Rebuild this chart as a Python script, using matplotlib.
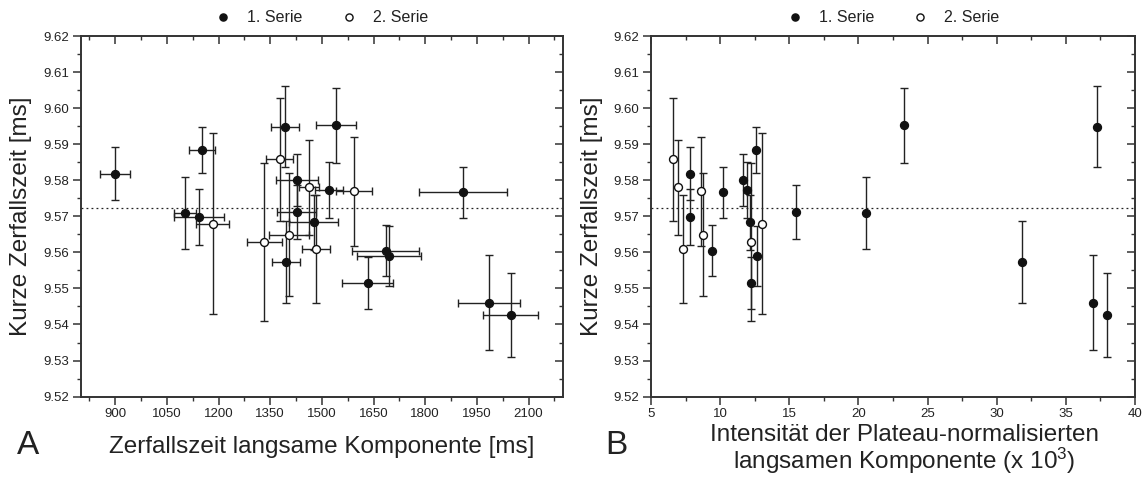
import matplotlib
matplotlib.use("Agg")
import matplotlib.pyplot as plt
from matplotlib.ticker import MultipleLocator, FormatStrFormatter

plt.rcParams['font.family'] = ['Liberation Sans', 'DejaVu Sans']
plt.rcParams['mathtext.fontset'] = 'custom'
plt.rcParams['mathtext.rm'] = 'Liberation Sans'
plt.rcParams['mathtext.it'] = 'Liberation Sans'

# 1. Serie (filled)
s1_tau_slow = [900, 1153, 1103, 1144, 1393, 1428, 1521, 1540, 1910, 1396, 1427, 1477, 1685, 1695, 1633, 1985, 2048]
s1_tau_slow_err = [43, 38, 32, 72, 41, 61, 40, 58, 127, 41, 57, 71, 97, 94, 74, 90, 79]
s1_intensity = [7.82, 12.57, 20.55, 7.82, 37.23, 11.68, 11.94, 23.29, 10.18, 31.8, 15.46, 12.16, 9.43, 12.64, 12.23, 36.94, 37.95]
s1_tau_fast = [9.5818, 9.5883, 9.5710, 9.5699, 9.5949, 9.5801, 9.5773, 9.5952, 9.5767, 9.5574,
               9.5712, 9.5683, 9.5605, 9.5590, 9.5514, 9.5460, 9.5427]
s1_tau_fast_err = [0.0074, 0.0064, 0.0100, 0.0078, 0.0113, 0.0072, 0.0079, 0.0103, 0.0071, 0.0114,
                   0.0075, 0.0077, 0.0070, 0.0083, 0.0072, 0.0132, 0.0117]

# 2. Serie (open)
s2_tau_slow = [1183, 1378, 1463, 1593, 1333, 1405, 1483]
s2_tau_slow_err = [48, 39, 30, 52, 50, 58, 41]
s2_intensity = [13.0, 6.57, 6.93, 8.62, 12.23, 8.78, 7.34]
s2_tau_fast = [9.5680, 9.5858, 9.5780, 9.5769, 9.5629, 9.5649, 9.5609]
s2_tau_fast_err = [0.025, 0.017, 0.0131, 0.015, 0.022, 0.017, 0.015]

mean_tau_fast = 9.5723
series_labels = ["1. Serie", "2. Serie"]

fig = plt.figure(figsize=(11.45, 4.79), dpi=100)
axA = fig.add_axes([0.0705, 0.172, 0.4212, 0.7528])
axB = fig.add_axes([0.5686, 0.172, 0.4227, 0.7528])

line_col = '#222222'
eb_kw = dict(fmt='none', ecolor=line_col, elinewidth=1.0, capsize=3, capthick=1.0, zorder=2)


def style_axes(ax, xlim, xmajor, xminor, xfmt):
    ax.set_xlim(*xlim)
    ax.set_ylim(9.52, 9.62)
    ax.xaxis.set_major_locator(MultipleLocator(xmajor))
    ax.xaxis.set_minor_locator(MultipleLocator(xminor))
    ax.yaxis.set_major_locator(MultipleLocator(0.01))
    ax.yaxis.set_minor_locator(MultipleLocator(0.005))
    ax.yaxis.set_major_formatter(FormatStrFormatter('%.2f'))
    ax.xaxis.set_major_formatter(FormatStrFormatter(xfmt))
    for sp in ax.spines.values():
        sp.set_linewidth(1.4)
        sp.set_color('#333333')
    ax.tick_params(which='major', direction='out', length=5.5, width=1.1, color='#333333',
                   labelsize=9.5, labelcolor='#222222', pad=3)
    ax.tick_params(which='minor', direction='out', length=3, width=1.0, color='#333333')
    # inward ticks on top and right
    top = ax.secondary_xaxis('top')
    top.xaxis.set_major_locator(MultipleLocator(xmajor))
    top.xaxis.set_minor_locator(MultipleLocator(xminor))
    top.tick_params(which='major', direction='in', length=5.5, width=1.1, color='#333333', labeltop=False)
    top.tick_params(which='minor', direction='in', length=3, width=1.0, color='#333333')
    top.spines['top'].set_visible(False)
    right = ax.secondary_yaxis('right')
    right.yaxis.set_major_locator(MultipleLocator(0.01))
    right.yaxis.set_minor_locator(MultipleLocator(0.005))
    right.tick_params(which='major', direction='in', length=5.5, width=1.1, color='#333333', labelright=False)
    right.tick_params(which='minor', direction='in', length=3, width=1.0, color='#333333')
    right.spines['right'].set_visible(False)
    ax.axhline(mean_tau_fast, color='#222222', linestyle=(0, (1.5, 2.5)), linewidth=0.9, zorder=1)
    ax.set_ylabel("Kurze Zerfallszeit [ms]", fontsize=17.5, color='#222222')
    ax.yaxis.set_label_coords(-0.1, 0.5)
    ax.legend(loc='center', bbox_to_anchor=(0.5, 1.05), ncol=2, frameon=False, fontsize=11.5,
              markerscale=0.9, handlelength=1.0, handletextpad=1.0, columnspacing=2.4,
              labelcolor='#222222')


# Panel A
axA.errorbar(s1_tau_slow, s1_tau_fast, xerr=s1_tau_slow_err, yerr=s1_tau_fast_err, **eb_kw)
axA.errorbar(s2_tau_slow, s2_tau_fast, xerr=s2_tau_slow_err, yerr=s2_tau_fast_err, **eb_kw)
axA.plot(s1_tau_slow, s1_tau_fast, 'o', ms=5.7, mfc='#111111', mec='#111111', label=series_labels[0], zorder=3)
axA.plot(s2_tau_slow, s2_tau_fast, 'o', ms=5.7, mfc='white', mec='#111111', mew=1.0, label=series_labels[1], zorder=3)
style_axes(axA, (800, 2200), 150, 75, '%d')

# Panel B
axB.errorbar(s1_intensity, s1_tau_fast, yerr=s1_tau_fast_err, **eb_kw)
axB.errorbar(s2_intensity, s2_tau_fast, yerr=s2_tau_fast_err, **eb_kw)
axB.plot(s1_intensity, s1_tau_fast, 'o', ms=5.7, mfc='#111111', mec='#111111', label=series_labels[0], zorder=3)
axB.plot(s2_intensity, s2_tau_fast, 'o', ms=5.7, mfc='white', mec='#111111', mew=1.0, label=series_labels[1], zorder=3)
style_axes(axB, (5, 40), 5, 2.5, '%d')

# axis titles and panel letters
fig.text(322 / 1145, 1 - 447 / 479, "Zerfallszeit langsame Komponente [ms]", fontsize=17.5,
         ha='center', va='center', color='#222222')
fig.text(904 / 1145, 1 - 450 / 479, "Intensität der Plateau-normalisierten\nlangsamen Komponente (x 10$^3$)",
         fontsize=17.5, ha='center', va='center', color='#222222', linespacing=1.0)
fig.text(28 / 1145, 1 - 446 / 479, "A", fontsize=24, ha='center', va='center', color='#222222')
fig.text(616 / 1145, 1 - 446 / 479, "B", fontsize=24, ha='center', va='center', color='#222222')

fig.savefig("out.png", dpi=100)
